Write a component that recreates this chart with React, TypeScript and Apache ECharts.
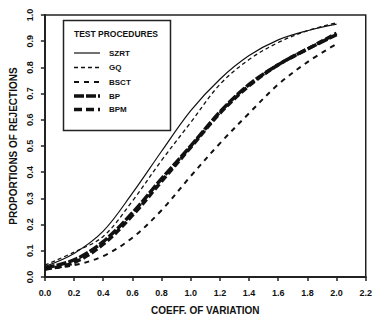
import React, { useEffect, useRef } from "react";
import * as echarts from "echarts";

const cv = [0.0, 0.2, 0.4, 0.6, 0.8, 1.0, 1.2, 1.4, 1.6, 1.8, 2.0];
const szrt = [0.04, 0.09, 0.175, 0.32, 0.48, 0.635, 0.755, 0.845, 0.905, 0.94, 0.965];
const gq = [0.045, 0.095, 0.155, 0.29, 0.445, 0.59, 0.735, 0.83, 0.895, 0.94, 0.97];
const bsct = [0.03, 0.045, 0.08, 0.15, 0.255, 0.385, 0.51, 0.625, 0.735, 0.82, 0.89];
const bp = [0.035, 0.065, 0.135, 0.245, 0.375, 0.5, 0.63, 0.735, 0.81, 0.87, 0.925];
const bpm = [0.03, 0.055, 0.125, 0.235, 0.365, 0.495, 0.625, 0.73, 0.81, 0.87, 0.93];
const names = ["SZRT", "GQ", "BSCT", "BP", "BPM"];

const FONT = "Liberation Sans";

export default function App() {
  const ref = useRef<HTMLDivElement>(null);
  useEffect(() => {
    const chart = echarts.init(ref.current!, undefined, { renderer: "svg" });
    const pts = (arr: number[]) => cv.map((x, i) => [x, arr[i]]);
    const styles: any[] = [
      { width: 1.2, type: "solid", dash: null },
      { width: 1.3, type: [4, 3], dash: [4, 3] },
      { width: 2, type: [5, 5], dash: [5, 5] },
      { width: 3.5, type: [10, 2], dash: [10, 2] },
      { width: 3.5, type: [7, 3], dash: [8, 4] },
    ];
    const datas = [szrt, gq, bsct, bp, bpm];
    const rowY = [53, 67.5, 82, 96, 109.5];
    const legendEls: any[] = [];
    names.forEach((n, i) => {
      legendEls.push({
        type: "line",
        shape: { x1: 74, y1: rowY[i], x2: 100, y2: rowY[i] },
        style: {
          stroke: "#111", lineWidth: styles[i].width,
          lineDash: styles[i].dash || undefined,
        },
      });
      legendEls.push({
        type: "text", x: 109, y: rowY[i],
        style: {
          text: n, fontFamily: FONT, fontWeight: "bold", fontSize: 8,
          fill: "#111", align: "left", verticalAlign: "middle",
        },
      });
    });
    chart.setOption({
      animation: false,
      grid: {
        left: 42, top: 15, right: 7, bottom: 34,
        show: true, borderColor: "#222", borderWidth: 1.5,
      },
      graphic: [
        {
          type: "rect",
          shape: { x: 63.5, y: 20.5, width: 107, height: 110 },
          style: { fill: "#fff", stroke: "#222", lineWidth: 1.5 },
        },
        {
          type: "text",
          x: 116, y: 34,
          style: {
            text: "TEST PROCEDURES", fontFamily: FONT, fontWeight: "bold",
            fontSize: 8.5, fill: "#111", align: "center", verticalAlign: "middle",
          },
        },
        ...legendEls,
      ],
      xAxis: {
        type: "value", min: 0, max: 2.2, interval: 0.2,
        name: "COEFF. OF VARIATION", nameLocation: "middle", nameGap: 28,
        nameTextStyle: { fontFamily: FONT, fontWeight: "bold", fontSize: 10, color: "#111" },
        axisLine: { lineStyle: { color: "#222", width: 2 } },
        axisTick: { length: 4, lineStyle: { color: "#222", width: 1.5 } },
        splitLine: { show: false },
        axisLabel: {
          formatter: (v: number) => v.toFixed(1), margin: 11,
          fontFamily: FONT, fontWeight: "bold", fontSize: 9, color: "#111",
        },
      },
      yAxis: {
        type: "value", min: 0, max: 1, interval: 0.1,
        name: "PROPORTIONS OF REJECTIONS", nameLocation: "middle", nameGap: 25,
        nameTextStyle: { fontFamily: FONT, fontWeight: "bold", fontSize: 10, color: "#111" },
        axisLine: { show: true, lineStyle: { color: "#222", width: 2 } },
        axisTick: { show: true, length: 4, lineStyle: { color: "#222", width: 1.5 } },
        splitLine: { show: false },
        axisLabel: {
          formatter: (v: number) => v.toFixed(1), rotate: 90, margin: 10,
          fontFamily: FONT, fontWeight: "bold", fontSize: 9, color: "#111",
        },
      },
      series: names.map((n, i) => ({
        name: n, type: "line", data: pts(datas[i]), showSymbol: false, symbol: "none",
        smooth: 0.35, color: "#111", z: 1,
        lineStyle: { color: "#111", width: styles[i].width, type: styles[i].type },
      })),
    });
    return () => chart.dispose();
  }, []);
  return <div ref={ref} style={{ width: 375, height: 320, position: "absolute", left: 0, top: 0 }} />;
}
